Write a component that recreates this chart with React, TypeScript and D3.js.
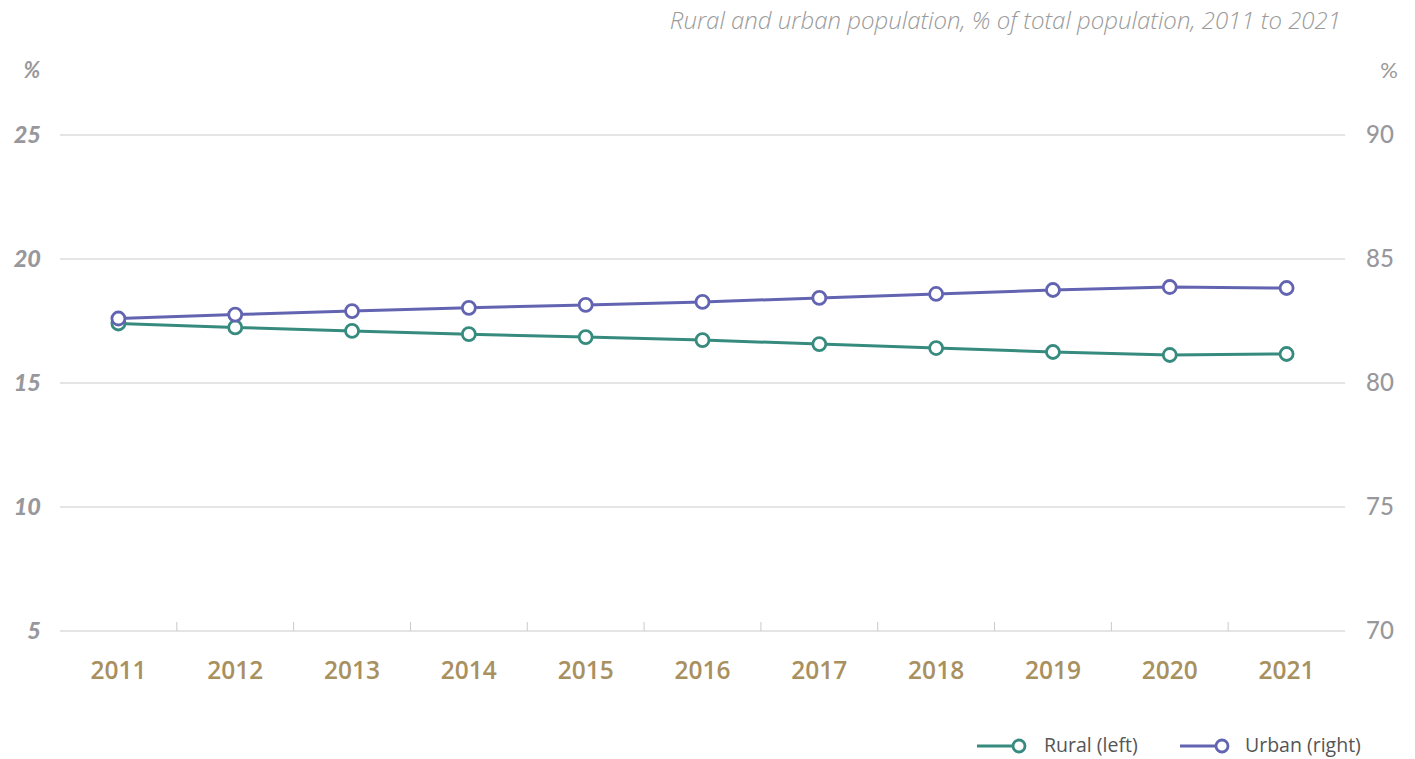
import React from "react";
import * as d3 from "d3";

const years = ["2011", "2012", "2013", "2014", "2015", "2016", "2017", "2018", "2019", "2020", "2021"];
const rural = [17.4, 17.24, 17.1, 16.97, 16.85, 16.73, 16.57, 16.41, 16.25, 16.13, 16.17];
const urban = [82.6, 82.76, 82.9, 83.03, 83.15, 83.27, 83.43, 83.59, 83.75, 83.87, 83.83];
const leftTicks = [5, 10, 15, 20, 25];
const rightTicks = [70, 75, 80, 85, 90];

const W = 1415;
const H = 759;
const RURAL = "#368b7e";
const URBAN = "#6364b1";

const App = () => {
  const x = d3.scaleBand<string>().domain(years).range([60, 1345]);
  const yL = d3.scaleLinear().domain([5, 25]).range([631, 135]);
  const yR = d3.scaleLinear().domain([70, 90]).range([631, 135]);
  const cx = (d: string) => (x(d) as number) + x.bandwidth() / 2;

  const lineL = d3
    .line<number>()
    .x((_, i) => cx(years[i]))
    .y((d) => yL(d));
  const lineR = d3
    .line<number>()
    .x((_, i) => cx(years[i]))
    .y((d) => yR(d));

  const font = "'Open Sans', sans-serif";

  return (
    <svg width={W} height={H} style={{ position: "absolute", left: 0, top: 0 }}>
      <text x={1341} y={29} textAnchor="end" fontFamily={font} fontStyle="italic" fontWeight={300} fontSize={24} fill="#9a9a9a">
        Rural and urban population, % of total population, 2011 to 2021
      </text>
      <text x={32} y={78} textAnchor="middle" fontFamily="Lato, sans-serif" fontStyle="italic" fontWeight={700} fontSize={22} fill="#999">%</text>
      <text x={1389} y={78} textAnchor="middle" fontFamily="Lato, sans-serif" fontSize={22} fill="#999">%</text>

      {leftTicks.map((t) => (
        <g key={t}>
          <line x1={60} x2={1345} y1={yL(t)} y2={yL(t)} stroke="#cacaca" strokeWidth={1} />
          <text x={41} y={yL(t) + 8} textAnchor="end" fontFamily="Lato, sans-serif" fontStyle="italic" fontWeight={900} fontSize={23.5} fill="#98989c">
            {t}
          </text>
        </g>
      ))}
      {rightTicks.map((t) => (
        <text key={t} x={1366} y={yR(t) + 8} textAnchor="start" fontFamily="Lato, sans-serif" fontWeight={500} fontSize={24} fill="#98989c">
          {t}
        </text>
      ))}

      {years.slice(1).map((yr) => (
        <line key={yr} x1={x(yr)} x2={x(yr)} y1={622} y2={631} stroke="#cacaca" strokeWidth={1} />
      ))}
      {years.map((yr) => (
        <text key={yr} x={cx(yr)} y={679} textAnchor="middle" fontFamily={font} fontWeight={600} fontSize={24.5} fill="#a8905f">
          {yr}
        </text>
      ))}

      <path d={lineL(rural) || ""} fill="none" stroke={RURAL} strokeWidth={3} />
      <path d={lineR(urban) || ""} fill="none" stroke={URBAN} strokeWidth={3} />
      {rural.map((v, i) => (
        <circle key={"r" + i} cx={cx(years[i])} cy={yL(v)} r={6.5} fill="#fff" stroke={RURAL} strokeWidth={2.8} />
      ))}
      {urban.map((v, i) => (
        <circle key={"u" + i} cx={cx(years[i])} cy={yR(v)} r={6.5} fill="#fff" stroke={URBAN} strokeWidth={2.8} />
      ))}

      <g>
        <line x1={977} x2={1013} y1={746} y2={746} stroke={RURAL} strokeWidth={3} />
        <circle cx={1019} cy={746} r={6} fill="#fff" stroke={RURAL} strokeWidth={2.8} />
        <text x={1044} y={752} fontFamily={font} fontSize={19.5} fill="#555">Rural (left)</text>
        <line x1={1180} x2={1216} y1={746} y2={746} stroke={URBAN} strokeWidth={3} />
        <circle cx={1222} cy={746} r={6} fill="#fff" stroke={URBAN} strokeWidth={2.8} />
        <text x={1245} y={752} fontFamily={font} fontSize={19.5} fill="#555">Urban (right)</text>
      </g>
    </svg>
  );
};

export default App;
